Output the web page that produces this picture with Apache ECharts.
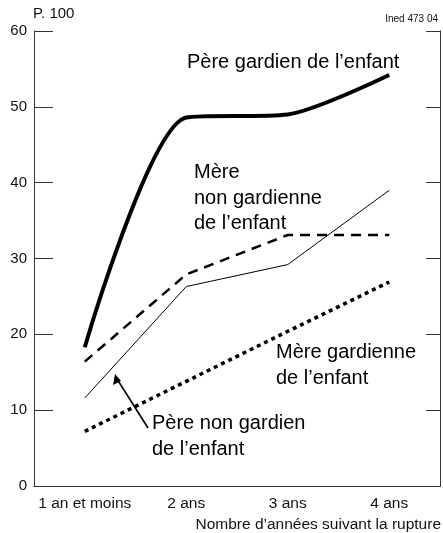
<!DOCTYPE html>
<html>
<head>
<meta charset="utf-8">
<script src="https://cdn.jsdelivr.net/npm/echarts@6/dist/echarts.min.js"></script>
<style>
  html, body { margin: 0; padding: 0; background: #fff; }
  #chart { width: 443px; height: 533px; }
</style>
</head>
<body>
<div id="chart"></div>
<script>
// catégories (années suivant la rupture)
var categories = ['1 an et moins', '2 ans', '3 ans', '4 ans'];
var yTicks = [0, 10, 20, 30, 40, 50, 60];

// séries, en % (P. 100)
var pereGardien = [18.3, 48.6, 49.0, 54.2];
var mereNonGardienne = [16.4, 27.9, 33.1, 33.1];
var pereNonGardien = [11.6, 26.3, 29.2, 39.0];
var mereGardienne = [7.2, 13.8, 20.4, 26.9];

var FONT = 'Liberation Sans, Arial, sans-serif';
var chart = echarts.init(document.getElementById('chart'));

chart.setOption({
  animation: false,
  textStyle: { fontFamily: FONT },
  grid: { left: 34, right: 3, top: 31, bottom: 47 },
  xAxis: [
    {
      type: 'category',
      data: categories,
      boundaryGap: true,
      position: 'bottom',
      axisLine: { lineStyle: { color: '#333', width: 1 } },
      axisTick: { inside: true, length: 18, lineStyle: { color: '#333' } },
      axisLabel: { color: '#111', fontSize: 15.5, margin: 10, interval: 0, fontFamily: FONT },
      splitLine: { show: false }
    },
    {
      type: 'category',
      data: categories,
      boundaryGap: true,
      position: 'top',
      axisLine: { lineStyle: { color: '#333', width: 1 } },
      axisTick: { inside: true, length: 17, lineStyle: { color: '#333' } },
      axisLabel: { show: false },
      splitLine: { show: false }
    }
  ],
  yAxis: [
    {
      type: 'value',
      min: yTicks[0],
      max: yTicks[yTicks.length - 1],
      interval: 10,
      position: 'left',
      axisLine: { show: true, lineStyle: { color: '#333', width: 1 } },
      axisTick: { show: true, inside: true, length: 19, lineStyle: { color: '#333' } },
      axisLabel: { color: '#111', fontSize: 15, margin: 7, fontFamily: FONT },
      splitLine: { show: false }
    },
    {
      type: 'value',
      min: yTicks[0],
      max: yTicks[yTicks.length - 1],
      interval: 10,
      position: 'right',
      axisLine: { show: true, lineStyle: { color: '#333', width: 1 } },
      axisTick: { show: true, inside: true, length: 14, lineStyle: { color: '#333' } },
      axisLabel: { show: false },
      splitLine: { show: false }
    }
  ],
  series: [
    {
      name: 'Père gardien de l’enfant',
      type: 'line',
      data: pereGardien,
      smooth: 0.25,
      symbol: 'none',
      lineStyle: { color: '#000', width: 4 }
    },
    {
      name: 'Mère non gardienne de l’enfant',
      type: 'line',
      data: mereNonGardienne,
      symbol: 'none',
      lineStyle: { color: '#000', width: 2.5, type: [10, 7] }
    },
    {
      name: 'Père non gardien de l’enfant',
      type: 'line',
      data: pereNonGardien,
      symbol: 'none',
      lineStyle: { color: '#000', width: 1 }
    },
    {
      name: 'Mère gardienne de l’enfant',
      type: 'line',
      data: mereGardienne,
      symbol: 'none',
      lineStyle: { color: '#000', width: 3.5, type: [4, 4] }
    }
  ],
  graphic: [
    { type: 'text', left: 33, top: 6, style: { text: 'P. 100', font: '15px ' + FONT, fill: '#111' } },
    { type: 'text', right: 5, top: 14, style: { text: 'Ined 473 04', font: '10px ' + FONT, fill: '#111' } },
    { type: 'text', right: 2, top: 517, style: { text: 'Nombre d’années suivant la rupture', font: '15.5px ' + FONT, fill: '#111' } },
    { type: 'text', left: 187, top: 52, style: { text: 'Père gardien de l’enfant', font: '20px ' + FONT, fill: '#000' } },
    { type: 'text', left: 194, top: 160, style: { text: 'Mère\nnon gardienne\nde l’enfant', font: '20px ' + FONT, fill: '#000', lineHeight: 25.5 } },
    { type: 'text', left: 276, top: 340, style: { text: 'Mère gardienne\nde l’enfant', font: '20px ' + FONT, fill: '#000', lineHeight: 25.5 } },
    { type: 'text', left: 152, top: 411, style: { text: 'Père non gardien\nde l’enfant', font: '20px ' + FONT, fill: '#000', lineHeight: 25.5 } },
    { type: 'line', shape: { x1: 148, y1: 428, x2: 117, y2: 379 }, style: { stroke: '#000', lineWidth: 1.6 } },
    { type: 'polygon', shape: { points: [[115, 374], [113, 385], [121, 381]] }, style: { fill: '#000' } }
  ]
});
</script>
</body>
</html>
